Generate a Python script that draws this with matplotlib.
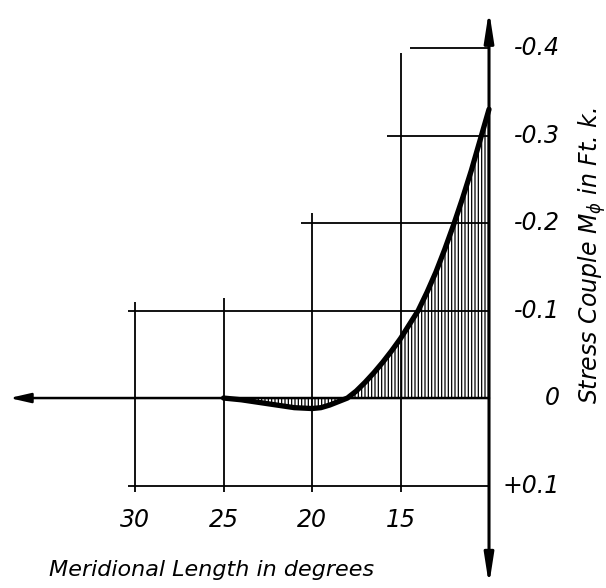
import numpy as np
import matplotlib.pyplot as plt

# meridional length in degrees and stress couple M_phi (ft k)
meridian = np.array([25, 24, 23, 22, 21, 20, 19.5, 19, 18.5, 18, 17.5, 17, 16.5, 16,
                     15.5, 15, 14.5, 14, 13.5, 13, 12.5, 12, 11.5, 11, 10.5, 10])
couple = np.array([0.0, 0.002, 0.005, 0.008, 0.011, 0.012, 0.011, 0.008, 0.004, 0.0,
                   -0.008, -0.018, -0.029, -0.041, -0.054, -0.068, -0.084, -0.100,
                   -0.121, -0.144, -0.170, -0.198, -0.228, -0.260, -0.295, -0.330])

x_ticks = [30, 25, 20, 15]
x_labels = ["30", "25", "20", "15"]
y_ticks = [-0.4, -0.3, -0.2, -0.1, 0.0, 0.1]
y_labels = ["-0.4", "-0.3", "-0.2", "-0.1", "0", "+0.1"]

# hand drawn grid: each line stops at its own length
v_tops = [-0.110, -0.114, -0.211, -0.394]
h_grid = [-0.4, -0.3, -0.2, -0.1, 0.1]
h_left = [14.45, 15.75, 20.6, 30.4, 30.4]

plt.rcParams["font.family"] = "DejaVu Sans"
plt.rcParams["mathtext.fontset"] = "dejavusans"
plt.rcParams["hatch.linewidth"] = 0.9

fig = plt.figure(figsize=(6.06, 5.88), dpi=100)
ax = fig.add_axes([0, 0, 1, 1])
ax.set_xlim(37.63, 3.39)
ax.set_ylim(0.2171, -0.4549)
ax.axis("off")

axis_x = meridian[-1]

for x, top in zip(x_ticks, v_tops):
    ax.plot([x, x], [top, 0.107], color="black", lw=1.3, solid_capstyle="butt")
for y, left in zip(h_grid, h_left):
    ax.plot([left, axis_x], [y, y], color="black", lw=1.3, solid_capstyle="butt")

# axes drawn as arrows
ax.annotate("", xy=(37.1, 0), xytext=(axis_x, 0),
            arrowprops=dict(arrowstyle="-|>,head_length=0.7,head_width=0.16",
                            mutation_scale=18, lw=1.8, color="black",
                            shrinkA=0, shrinkB=0))
ax.annotate("", xy=(axis_x, -0.443), xytext=(axis_x, 0.214),
            arrowprops=dict(arrowstyle="<|-|>,head_length=0.9,head_width=0.14",
                            mutation_scale=20, lw=2.2, color="black",
                            shrinkA=0, shrinkB=0))

# shaded area under the curve
ax.fill_between(meridian, couple, 0, facecolor="none", edgecolor="black",
                hatch="|||||", lw=0)
ax.plot(meridian, couple, color="black", lw=3.8, solid_capstyle="round",
        solid_joinstyle="round")

for x, lab in zip(x_ticks, x_labels):
    ax.text(x, 0.139, lab, fontsize=17, style="italic", ha="center", va="center")
for y, lab in zip(y_ticks, y_labels):
    ax.text(6.0, y, lab, fontsize=17, style="italic", ha="right", va="center")

ax.text(25.65, 0.197, "Meridional Length in degrees", fontsize=16,
        style="italic", ha="center", va="center")
ax.text(4.2, -0.163, r"Stress Couple $M_\phi$ in Ft. k.", fontsize=17,
        style="italic", rotation=90, ha="center", va="center")

fig.savefig("out.png", dpi=100)
